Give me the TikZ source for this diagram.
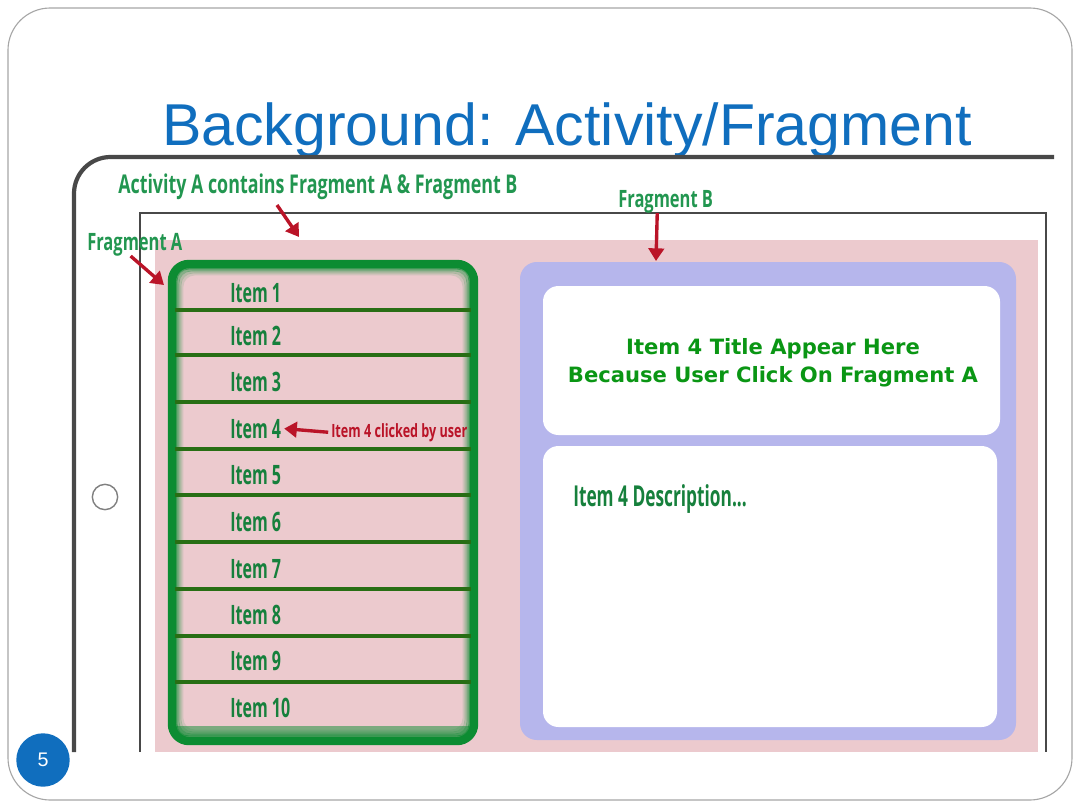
\documentclass[tikz,border=0pt]{standalone}
\usepackage{fontspec}
\setmainfont{Liberation Sans}
\newfontfamily\condfont[FakeStretch=0.60]{Open Sans}
\newfontfamily\labelfont[FakeStretch=0.69]{Open Sans}
\newfontfamily\comicfont{DejaVu Sans}
\usetikzlibrary{positioning,arrows.meta}
\definecolor{titleblue}{RGB}{16,110,190}
\definecolor{itemgreen}{RGB}{22,128,60}
\definecolor{labelgreen}{RGB}{34,150,80}
\definecolor{listgreen}{RGB}{12,140,50}
\definecolor{rulegreen}{RGB}{40,110,20}
\definecolor{screenpink}{RGB}{236,202,206}
\definecolor{panelblue}{RGB}{182,182,236}
\definecolor{notered}{RGB}{186,20,40}
\definecolor{framegray}{RGB}{72,72,72}
\definecolor{comicgreen}{RGB}{10,150,20}
\tikzset{
  itemtext/.style={anchor=base west, inner sep=0pt, text=itemgreen,
    font=\condfont\bfseries\fontsize{19}{22}\selectfont},
  labeltext/.style={anchor=base west, inner sep=0pt, text=labelgreen,
    font=\labelfont\bfseries\fontsize{17}{20}\selectfont},
  comictext/.style={anchor=base, inner sep=0pt, text=comicgreen,
    font=\comicfont\bfseries\fontsize{15}{20}\selectfont},
  notearrow/.style={draw=notered, line width=2.4pt,
    -{Triangle[length=9pt,width=11pt]}},
}
\newcommand{\whitebox}[4]{%
  \fill[white, rounded corners=11pt] (#1,#2) rectangle (#3,#4);}

\begin{document}
\begin{tikzpicture}[x=0.025cm, y=-0.025cm]
  \useasboundingbox (0,0) rectangle (1080,810);
  % slide
  \draw[gray!70, line width=0.8pt, rounded corners=30pt] (8,8) rectangle (1072,800);
  \node[anchor=base, text=titleblue, font=\fontsize{42}{48}\selectfont] (title) at (567,145)
    {Background: Activity/Fragment};
  % tablet
  \draw[framegray, line width=3pt, rounded corners=26pt] (74,752) -- (74,157) -- (1054,157);
  \draw[framegray, line width=1.3pt] (140,752) -- (140,213) -- (1046,213) -- (1046,752);
  \node[circle, draw=gray, line width=1pt, minimum size=18pt, inner sep=0pt] (homebtn) at (105,497) {};
  \fill[screenpink] (155,240) rectangle (1038,752);
  % fragment A list
  \draw[listgreen, line width=6pt, rounded corners=12pt] (172,264) rectangle (474,741);
  \foreach \d/\o in {4/0.7,6/0.45,8/0.25,10/0.12}
    \draw[listgreen, opacity=\o, line width=2pt, rounded corners=9pt]
      (172+\d,264+\d) rectangle (474-\d,741-\d);
  \fill[listgreen, opacity=0.5] (176,726) rectangle (470,736);
  \foreach \y in {310,355,402,449,495,542,589,636,682}
    \draw[rulegreen, line width=2.2pt] (175,\y) -- (471,\y);
  \foreach \y [count=\n] in {292,335,381,428,474,521,568,614,660,707}
    \node[itemtext] (item\n) at (230,\y+10) {Item \n};
  % fragment B panel
  \fill[panelblue, rounded corners=12pt] (520,262) rectangle (1016,740);
  \whitebox{543}{286}{1000}{435}
  \whitebox{543}{446}{997}{727}
  \node[comictext] (titleline1) at (773,354) {Item 4 Title Appear Here};
  \node[comictext] (titleline2) at (773,382) {Because User Click On Fragment A};
  \node[itemtext, font=\condfont\bfseries\fontsize{20.5}{22}\selectfont] (desc) at (573,506)
    {Item 4 Description...};
  % labels
  \node[labeltext, font=\labelfont\bfseries\fontsize{18.4}{20}\selectfont] (actA) at (118,193)
    {Activity A contains Fragment A \& Fragment B};
  \node[labeltext] (fragA) at (87,250) {Fragment A};
  \node[labeltext] (fragB) at (618,207) {Fragment B};
  \node[labeltext, text=notered, font=\labelfont\bfseries\fontsize{13}{15}\selectfont] (clicked)
    at (331,437) {Item 4 clicked by user};
  \coordinate (actAtail) at (277,205);
  \coordinate (actAtip) at (299,237);
  \coordinate (fragAtip) at (164,285);
  \coordinate (fragBtip) at (656,261);
  \draw[notearrow] (actAtail) -- (actAtip);
  \draw[notearrow] ([xshift=-3pt]fragA.south) -- (fragAtip);
  \draw[notearrow] ([xshift=-6pt]fragB.south) -- (fragBtip);
  \draw[notearrow] ([xshift=-2pt]clicked.west) -- ([xshift=2pt]item4.east);
  % page number
  \node[circle, fill=titleblue, minimum size=38pt, inner sep=0pt, text=white,
    font=\fontsize{14}{16}\selectfont] (pagenum) at (43,760) {5};
\end{tikzpicture}
\end{document}
